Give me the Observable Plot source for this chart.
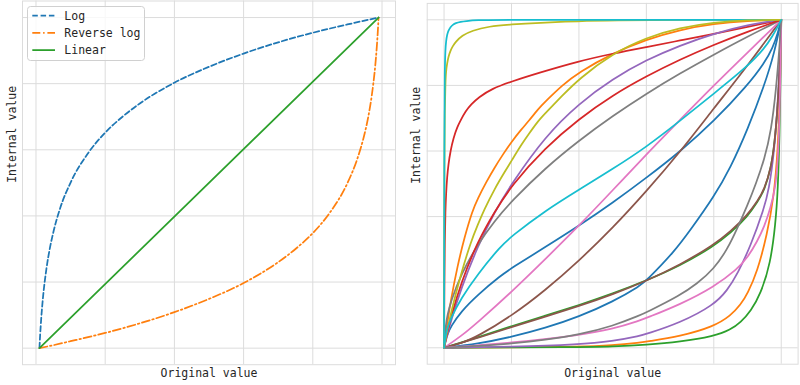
<!DOCTYPE html>
<html><head><meta charset="utf-8">
<script src="https://cdn.jsdelivr.net/npm/d3@7"></script>
<script src="https://cdn.jsdelivr.net/npm/@observablehq/plot@0.6"></script>
<style>
body{margin:0;background:#fff;}
#wrap{position:relative;width:800px;height:385px;overflow:hidden;font-family:"DejaVu Sans Mono",monospace;background:#fff;}
.panel{position:absolute;top:0;width:400px;height:385px;}
.panel svg{display:block;}
#legend{position:absolute;left:27px;top:6px;width:118px;height:55px;}
</style></head><body>
<div id="wrap"><div id="left" class="panel" style="left:0"></div><div id="right" class="panel" style="left:400px"></div><div id="legend"></div></div>
<script>
// ---------- shared ----------
const gridTicks = [0, 0.2, 0.4, 0.6, 0.8, 1.0];
const xLabel = "Original value";
const yLabel = "Internal value";
const tab10 = ["#1f77b4","#ff7f0e","#2ca02c","#d62728","#9467bd","#8c564b","#e377c2","#7f7f7f","#bcbd22","#17becf"];

// ---------- left panel ----------
const leftNames = ["Log", "Reverse log", "Linear"];
const logX = [0.01,0.011,0.012,0.015,0.02,0.03,0.04,0.05,0.07,0.1,0.15,0.2,0.25,0.3,0.4,0.5,0.6,0.7,0.8,0.9,0.99];
const logY = [0,0.021,0.040,0.088,0.151,0.239,0.302,0.350,0.424,0.501,0.589,0.652,0.700,0.740,0.803,0.851,0.891,0.925,0.954,0.979,1];
const revX = [0.01,0.05,0.1,0.2,0.3,0.4,0.5,0.6,0.7,0.75,0.8,0.85,0.9,0.93,0.95,0.96,0.97,0.975,0.98,0.985,0.988,0.989,0.99];
const revY = [0,0.009,0.021,0.046,0.075,0.109,0.149,0.197,0.260,0.300,0.348,0.411,0.499,0.577,0.650,0.698,0.761,0.801,0.849,0.912,0.960,0.979,1];
const linX = [0.01, 0.99];
const linY = [0, 1];

// ---------- right panel curves [x, y] ----------
const blueA = [[0,0],[0.005,0.025],[0.01,0.04],[0.02,0.065],[0.05,0.11],[0.1,0.162],[0.168,0.22],[0.2,0.243],[0.3,0.307],[0.4,0.372],[0.5,0.442],[0.6,0.518],[0.7,0.598],[0.8,0.69],[0.9,0.8],[0.95,0.868],[0.975,0.915],[0.99,0.96],[1,1]];
const orangeA = [[0,0],[0.005,0.04],[0.01,0.078],[0.02,0.145],[0.04,0.25],[0.06,0.335],[0.084,0.418],[0.1,0.455],[0.125,0.505],[0.15,0.55],[0.175,0.59],[0.2,0.628],[0.231,0.668],[0.25,0.69],[0.28,0.729],[0.3,0.75],[0.35,0.8],[0.4,0.84],[0.5,0.898],[0.6,0.94],[0.7,0.97],[0.8,0.988],[0.9,0.997],[1,1]];
const greenA = [[0,0],[0.05,0.016],[0.1,0.032],[0.2,0.066],[0.3,0.098],[0.4,0.13],[0.5,0.165],[0.6,0.205],[0.7,0.25],[0.8,0.31],[0.85,0.35],[0.9,0.4],[0.93,0.445],[0.95,0.48],[0.97,0.55],[0.98,0.62],[0.99,0.74],[0.996,0.86],[1,1]];
const redA = [[0,0],[0.001,0.2],[0.002,0.32],[0.004,0.42],[0.006,0.47],[0.009,0.52],[0.013,0.56],[0.019,0.6],[0.028,0.64],[0.039,0.673],[0.05,0.695],[0.063,0.72],[0.08,0.742],[0.103,0.764],[0.142,0.79],[0.2,0.812],[0.28,0.838],[0.4,0.874],[0.5,0.897],[0.6,0.917],[0.7,0.937],[0.8,0.957],[0.9,0.978],[1,1]];
const purpleA = [[0,0],[0.005,0.02],[0.01,0.04],[0.02,0.08],[0.05,0.18],[0.1,0.31],[0.15,0.415],[0.2,0.5],[0.3,0.645],[0.4,0.745],[0.5,0.82],[0.6,0.878],[0.7,0.922],[0.8,0.958],[0.9,0.985],[1,1]];
const brownA = [[0,0],[0.05,0.013],[0.1,0.035],[0.2,0.097],[0.3,0.175],[0.4,0.265],[0.5,0.365],[0.6,0.477],[0.7,0.597],[0.8,0.73],[0.9,0.86],[1,1]];
const pinkA = [[0,0],[0.05,0.035],[0.1,0.078],[0.2,0.17],[0.3,0.27],[0.4,0.372],[0.5,0.48],[0.6,0.59],[0.7,0.695],[0.8,0.8],[0.9,0.9],[1,1]];
const grayA = [[0,0],[0.005,0.071],[0.01,0.1],[0.02,0.141],[0.05,0.224],[0.1,0.316],[0.15,0.387],[0.2,0.447],[0.3,0.548],[0.4,0.632],[0.5,0.707],[0.6,0.775],[0.7,0.837],[0.8,0.894],[0.9,0.949],[1,1]];
const oliveA = [[0,0],[0.001,0.6],[0.002,0.72],[0.004,0.81],[0.006,0.845],[0.009,0.866],[0.013,0.888],[0.019,0.906],[0.026,0.92],[0.034,0.932],[0.053,0.952],[0.083,0.967],[0.132,0.98],[0.2,0.986],[0.28,0.991],[0.4,0.996],[0.5,0.998],[0.7,1],[1,1]];
const cyanA = [[0,0],[0.001,0.7],[0.002,0.85],[0.004,0.91],[0.006,0.935],[0.009,0.955],[0.013,0.967],[0.019,0.978],[0.026,0.985],[0.034,0.99],[0.05,0.994],[0.063,0.996],[0.1,0.999],[0.15,1],[1,1]];
const blueB = [[0,0],[0.1,0.012],[0.2,0.033],[0.3,0.06],[0.4,0.095],[0.5,0.14],[0.583,0.19],[0.6,0.205],[0.682,0.292],[0.731,0.36],[0.8,0.46],[0.85,0.55],[0.9,0.665],[0.95,0.8],[0.98,0.9],[1,1]];
const orangeB = [[0,0],[0.2,0.001],[0.4,0.003],[0.5,0.007],[0.583,0.016],[0.6,0.019],[0.7,0.035],[0.8,0.065],[0.85,0.098],[0.88,0.132],[0.9,0.165],[0.929,0.232],[0.958,0.345],[0.978,0.46],[0.99,0.6],[0.997,0.8],[1,1]];
const greenB = [[0,0],[0.4,0.002],[0.5,0.004],[0.6,0.009],[0.7,0.018],[0.8,0.035],[0.85,0.055],[0.88,0.078],[0.91,0.112],[0.939,0.165],[0.968,0.256],[0.983,0.378],[0.99,0.48],[0.995,0.65],[0.998,0.82],[1,1]];
const redB = [[0,0],[0.005,0.025],[0.01,0.049],[0.02,0.092],[0.05,0.198],[0.1,0.325],[0.15,0.415],[0.2,0.495],[0.3,0.61],[0.4,0.698],[0.5,0.77],[0.6,0.828],[0.7,0.879],[0.8,0.924],[0.9,0.964],[1,1]];
const purpleB = [[0,0],[0.2,0.003],[0.4,0.01],[0.5,0.02],[0.583,0.037],[0.6,0.042],[0.7,0.076],[0.8,0.13],[0.84,0.175],[0.87,0.225],[0.909,0.31],[0.949,0.425],[0.963,0.48],[0.98,0.6],[0.992,0.78],[1,1]];
const brownB = [[0,0],[0.05,0.015],[0.1,0.03],[0.2,0.063],[0.3,0.095],[0.4,0.127],[0.5,0.163],[0.6,0.204],[0.7,0.253],[0.8,0.314],[0.85,0.355],[0.9,0.405],[0.93,0.448],[0.95,0.483],[0.97,0.55],[0.98,0.62],[0.99,0.74],[0.996,0.86],[1,1]];
const pinkB = [[0,0],[0.2,0.015],[0.4,0.038],[0.5,0.057],[0.583,0.084],[0.6,0.091],[0.7,0.132],[0.8,0.185],[0.87,0.24],[0.9,0.275],[0.929,0.325],[0.95,0.37],[0.968,0.425],[0.983,0.49],[0.99,0.57],[0.995,0.7],[0.998,0.85],[1,1]];
const grayB = [[0,0],[0.1,0.005],[0.2,0.013],[0.3,0.024],[0.4,0.04],[0.5,0.066],[0.583,0.1],[0.6,0.108],[0.7,0.16],[0.75,0.195],[0.8,0.24],[0.84,0.3],[0.87,0.365],[0.9,0.435],[0.925,0.5],[0.95,0.575],[0.97,0.66],[0.985,0.79],[0.995,0.92],[1,1]];
const oliveB = [[0,0],[0.005,0.03],[0.01,0.055],[0.02,0.105],[0.05,0.225],[0.08,0.325],[0.1,0.375],[0.118,0.419],[0.15,0.485],[0.182,0.54],[0.2,0.57],[0.231,0.622],[0.25,0.65],[0.28,0.693],[0.3,0.715],[0.35,0.768],[0.4,0.82],[0.5,0.897],[0.6,0.946],[0.7,0.976],[0.8,0.992],[0.9,0.999],[1,1]];
const cyanB = [[0,0],[0.005,0.04],[0.01,0.06],[0.02,0.09],[0.05,0.15],[0.1,0.225],[0.168,0.31],[0.2,0.34],[0.3,0.418],[0.4,0.482],[0.5,0.545],[0.6,0.612],[0.7,0.692],[0.8,0.775],[0.9,0.858],[0.95,0.912],[0.975,0.952],[0.99,0.98],[1,1]];

const rightCurves = [blueA, orangeA, greenA, redA, purpleA, brownA, pinkA, grayA, oliveA, cyanA,
                     blueB, orangeB, greenB, redB, purpleB, brownB, pinkB, grayB, oliveB, cyanB];

// ---------- style ----------
const gridColor = "#dcdcdc";
const textColor = "#262626";
const fontSize = 11.5;
const lw = 1.75;

function frameMarks() {
  return [
    Plot.gridX(gridTicks, {stroke: gridColor, strokeOpacity: 1, strokeWidth: 1}),
    Plot.gridY(gridTicks, {stroke: gridColor, strokeOpacity: 1, strokeWidth: 1}),
    Plot.frame({stroke: gridColor, strokeWidth: 1})
  ];
}
function labelMarks(dxLabel) {
  return [
    Plot.text([xLabel], {text: d => d, frameAnchor: "bottom", dy: 9, lineAnchor: "middle", fontSize, fill: textColor}),
    Plot.text([yLabel], {text: d => d, frameAnchor: "left", dx: dxLabel, rotate: -90, lineAnchor: "middle", fontSize, fill: textColor})
  ];
}
const zip = (xs, ys) => xs.map((x, i) => [x, ys[i]]);

// left
const leftPlot = Plot.plot({
  width: 400, height: 385,
  marginLeft: 22, marginRight: 5, marginTop: 0.5, marginBottom: 20.8,
  x: {domain: [-0.039, 1.039], axis: null},
  y: {domain: [-0.05, 1.05], axis: null},
  style: {background: "transparent", fontFamily: "DejaVu Sans Mono", overflow: "visible"},
  marks: [
    ...frameMarks(),
    Plot.line(zip(logX, logY), {x: d => d[0], y: d => d[1], stroke: tab10[0], strokeWidth: lw, strokeDasharray: "5.5,2.8", curve: "monotone-x"}),
    Plot.line(zip(revX, revY), {x: d => d[0], y: d => d[1], stroke: tab10[1], strokeWidth: lw, strokeDasharray: "8,2.8,1.5,2.8", curve: "monotone-x"}),
    Plot.line(zip(linX, linY), {x: d => d[0], y: d => d[1], stroke: tab10[2], strokeWidth: lw}),
    ...labelMarks(-10.3)
  ]
});
document.getElementById("left").appendChild(leftPlot);

// right
const rightPlot = Plot.plot({
  width: 400, height: 385,
  marginLeft: 26.7, marginRight: 2.4, marginTop: 2.9, marginBottom: 21.3,
  x: {domain: [-0.05, 1.05], axis: null},
  y: {domain: [-0.05, 1.05], axis: null},
  style: {background: "transparent", fontFamily: "DejaVu Sans Mono", overflow: "visible"},
  marks: [
    ...frameMarks(),
    ...rightCurves.map((pts, i) => Plot.line(pts, {x: d => d[0], y: d => d[1], stroke: tab10[i % 10], strokeWidth: lw, curve: "basis"})),
    ...labelMarks(-10.7)
  ]
});
document.getElementById("right").appendChild(rightPlot);

// legend
const leg = d3.select("#legend").append("svg").attr("width", 118).attr("height", 55).style("display", "block");
leg.append("rect").attr("x", 0.5).attr("y", 0.5).attr("width", 117).attr("height", 54).attr("rx", 3)
  .attr("fill", "rgba(255,255,255,0.8)").attr("stroke", "#d0d0d0");
const legDash = ["5.5,2.8", "8,2.8,1.5,2.8", null];
leftNames.forEach((name, i) => {
  const cy = 9.7 + i * 17.2;
  const ln = leg.append("line").attr("x1", 5.3).attr("x2", 28).attr("y1", cy).attr("y2", cy)
    .attr("stroke", tab10[i]).attr("stroke-width", lw);
  if (legDash[i]) ln.attr("stroke-dasharray", legDash[i]);
  leg.append("text").attr("x", 37.3).attr("y", cy).attr("dy", "0.35em")
    .attr("font-family", "DejaVu Sans Mono").attr("font-size", fontSize).attr("fill", textColor).text(name);
});
</script></body></html>
